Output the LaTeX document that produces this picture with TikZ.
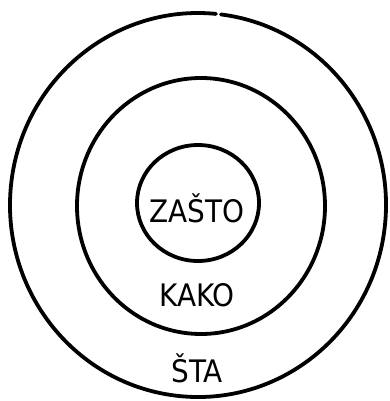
\documentclass[tikz,border=0pt]{standalone}
\usepackage{fontspec}
\newfontfamily\hand{DejaVu Sans Condensed}
\begin{document}
\begin{tikzpicture}[x=1pt,y=-1pt,
  ring/.style={line width=3.8pt,line cap=round,draw=black},
  lbl/.style={font=\hand\fontsize{31}{31}\selectfont,inner sep=0pt}]
\useasboundingbox[fill=white] (0,0) rectangle (389,401);
\draw[ring] (198,205) ++(277:188 and 192) arc[start angle=277,end angle=635.5,x radius=188,y radius=192];
\draw[ring] (201,206) ellipse[x radius=124,y radius=128];
\draw[ring] (198,203) ellipse[x radius=61,y radius=58];
\node[lbl] (zasto) at (197,208) {ZAŠTO};
\node[lbl] (kako) at (197,295) {KAKO};
\node[lbl] (sta) at (197,368) {ŠTA};
\end{tikzpicture}
\end{document}
